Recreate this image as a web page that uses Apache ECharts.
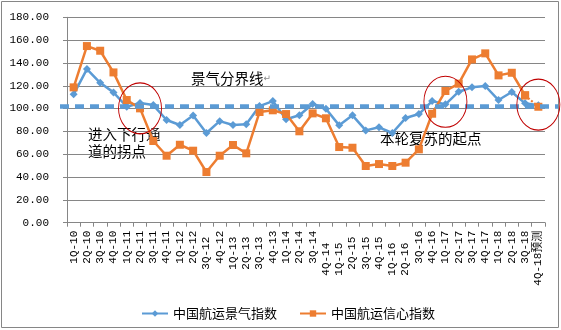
<!DOCTYPE html>
<html><head><meta charset="utf-8">
<script src="https://cdn.jsdelivr.net/npm/echarts@6/dist/echarts.min.js"></script>
<style>html,body{margin:0;padding:0;background:#fff}#c{width:561px;height:330px}</style>
</head><body><div id="c"></div>
<script>
const categories = ['1Q-10','2Q-10','3Q-10','4Q-10','1Q-11','2Q-11','3Q-11','4Q-11','1Q-12','2Q-12','3Q-12','4Q-12','1Q-13','2Q-13','3Q-13','4Q-13','1Q-14','2Q-14','3Q-14','4Q-14','1Q-15','2Q-15','3Q-15','4Q-15','1Q-16','2Q-16','3Q-16','4Q-16','1Q-17','2Q-17','3Q-17','4Q-17','1Q-18','2Q-18','3Q-18','4Q-18预测'];
const prosperity = [112.5,134.6,122.6,114.2,101.6,104.9,103.1,90.0,85.6,94.0,78.6,89.0,85.6,86.2,102.2,106.6,90.6,94.1,104.0,99.9,85.3,94.1,80.9,83.6,78.6,91.7,95.2,106.6,103.7,114.8,118.6,119.8,107.5,114.5,104.6,103.0];
const confidence = [118.6,154.8,150.7,131.7,107.5,100.2,71.6,58.7,68.3,63.1,44.4,58.7,68.1,60.8,97.0,98.5,95.2,80.1,95.8,91.5,66.3,65.7,49.7,51.4,49.7,52.6,64.3,95.5,115.4,121.8,143.1,148.4,129.1,131.4,111.6,101.6];
const boundaryValue = 102;
const seriesNames = ['中国航运景气指数','中国航运信心指数'];
const yTicks = [0,20,40,60,80,100,120,140,160,180];
// annotation circles: [category index, value]
const circles = [[5,100.2],[27.5,106],[35,103.5]];

// label stagger (layout only)
const labelShift = {'3Q-12':6,'1Q-13':6,'2Q-13':6,'3Q-13':6,'4Q-14':12,'1Q-15':12,'2Q-15':6,'3Q-15':6,'4Q-15':6,'1Q-16':12,'2Q-16':12};

const nForecast = confidence.length - 2;
const confMain = confidence.map((v,i)=> i<=nForecast ? v : null);
const confFc = confidence.map((v,i)=> i>=nForecast ? v : null);

const chart = echarts.init(document.getElementById('c'));
const FONT_NUM = '"Liberation Mono","Noto Sans CJK SC",monospace';
const FONT_CJK = '"Noto Sans CJK SC","Noto Sans",sans-serif';
chart.setOption({
  animation:false,
  grid:{left:67,right:16,top:17.3,bottom:107.3},
  legend:{
    data:[seriesNames[0],seriesNames[1]],
    left:136, top:302, itemWidth:26, itemHeight:8, itemGap:22,
    textStyle:{fontFamily:FONT_CJK,fontSize:13,color:'#000'}
  },
  xAxis:{
    type:'category',
    data:categories.map(c=>({value:c,textStyle:{padding:[0,labelShift[c]||0,0,0]}})),
    boundaryGap:true,
    axisLine:{lineStyle:{color:'#868686',width:1}},
    axisTick:{show:true,length:4,lineStyle:{color:'#868686'},interval:0},
    axisLabel:{interval:0,rotate:90,margin:8,fontFamily:FONT_NUM,fontSize:11,color:'#000'},
    splitLine:{show:false}
  },
  yAxis:{
    type:'value',min:yTicks[0],max:yTicks[yTicks.length-1],interval:20,
    axisLine:{show:true,lineStyle:{color:'#868686',width:1}},
    axisTick:{show:true,length:4,lineStyle:{color:'#868686'}},
    axisLabel:{margin:18,fontFamily:FONT_NUM,fontSize:11,color:'#000',formatter:v=>v.toFixed(2)},
    splitLine:{lineStyle:{color:'#868686',width:1}}
  },
  series:[
    {name:seriesNames[0],type:'line',data:prosperity,symbol:'diamond',symbolSize:8,
     itemStyle:{color:'#5b9bd5'},lineStyle:{color:'#5b9bd5',width:2.5},z:3,
     markLine:{silent:true,symbol:'none',label:{show:false},
       lineStyle:{color:'#5b9bd5',width:4.5,type:[9,6],opacity:1},
       data:[[{yAxis:boundaryValue,x:60},{yAxis:boundaryValue,x:558}]]},
     markPoint:{silent:true,symbol:'circle',symbolSize:[43,51],label:{show:false},
       itemStyle:{color:'rgba(0,0,0,0)',borderColor:'#c00000',borderWidth:1},
       data:circles.map(c=>({coord:c}))}
    },
    {name:seriesNames[1],type:'line',data:confMain,symbol:'rect',symbolSize:8,
     itemStyle:{color:'#ed7d31'},lineStyle:{color:'#ed7d31',width:2.5},z:4},
    {name:'forecast',type:'line',data:confFc,symbol:'rect',symbolSize:8,
     itemStyle:{color:'#ed7d31'},lineStyle:{color:'#ed7d31',width:2,type:'dotted'},z:4}
  ],
  graphic:[
    {type:'rect',shape:{x:1.5,y:1.5,width:557,height:326},style:{fill:'none',stroke:'#868686',lineWidth:1},silent:true},
    {type:'text',left:191,top:71,style:{text:'景气分界线{r|↵}',font:'14.5px "Noto Sans CJK SC"',fill:'#000',
      rich:{r:{fontSize:9,fill:'#888',fontFamily:'DejaVu Sans'}}}},
    {type:'text',left:88,top:126,style:{text:'进入下行通\n道的拐点',font:'14.5px "Noto Sans CJK SC"',lineHeight:17,fill:'#000'}},
    {type:'text',left:380,top:131,style:{text:'本轮复苏的起点',font:'14.5px "Noto Sans CJK SC"',fill:'#000'}}
  ]
});
</script></body></html>
